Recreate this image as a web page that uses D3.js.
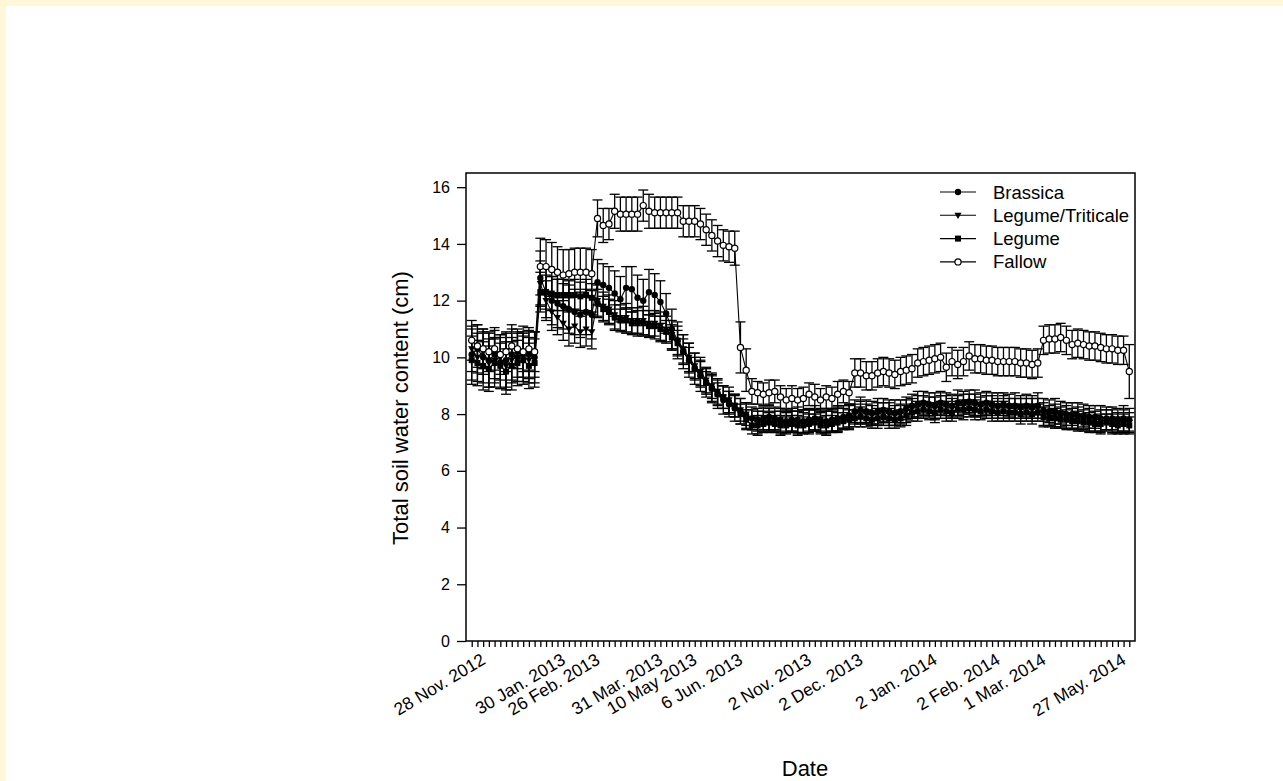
<!DOCTYPE html>
<html>
<head>
<meta charset="utf-8">
<script src="https://cdn.jsdelivr.net/npm/d3@7"></script>
<style>
  html, body { margin: 0; padding: 0; background: #fff8d8; }
  svg { display: block; }
  text { font-family: "Liberation Sans", Arial, sans-serif; fill: #000; }
</style>
</head>
<body>
<svg id="chart" width="1283" height="781"></svg>
<script>
// Sampling occasions (one category per soil-water survey)
const sampleIndex = d3.range(116);

// Category positions that carry a date label, and the labels
const tickIndex = [2, 16, 22, 33, 39, 47, 59, 68, 81, 92, 100, 114];
const tickText = ["28 Nov. 2012", "30 Jan. 2013", "26 Feb. 2013", "31 Mar. 2013", "10 May 2013",
  "6 Jun. 2013", "2 Nov. 2013", "2 Dec. 2013", "2 Jan. 2014", "2 Feb. 2014", "1 Mar. 2014", "27 May. 2014"];

const yTicks = [0, 2, 4, 6, 8, 10, 12, 14, 16];

// Total soil water content (cm), mean per sampling date
const brassica = [
  10.1, 10.3, 10.0, 9.9, 10.1, 9.8, 9.9, 10.1, 10.0, 10.2, 10.1, 10.0,
  12.8, 12.3, 12.0, 11.9, 11.8, 11.7, 11.6, 11.5, 11.6, 11.5,
  12.65, 12.55, 12.45, 12.25, 12.05, 12.45, 12.4, 12.1, 12.0, 12.3, 12.2, 11.95, 11.55, 11.0, 10.6, 10.2, 9.9, 9.6, 9.35, 9.1, 8.9, 8.7, 8.5, 8.35, 8.2,
  8.1, 7.95, 7.85, 7.8, 7.85, 7.9, 7.85, 7.8, 7.75, 7.8, 7.8, 7.75, 7.8, 7.85, 7.8, 7.75, 7.8, 7.85, 7.9, 7.95,
  8.1, 8.15, 8.1, 8.05, 8.1, 8.15, 8.1, 8.05, 8.1, 8.2, 8.3, 8.35, 8.4, 8.35, 8.3, 8.4, 8.35, 8.3, 8.4, 8.4, 8.45, 8.4, 8.35, 8.4, 8.35, 8.3, 8.35, 8.3, 8.3, 8.25, 8.3, 8.25, 8.3,
  8.15, 8.1, 8.1, 8.05, 8.0, 8.0, 7.95, 7.95, 7.9, 7.9, 7.85, 7.85, 7.85, 7.8, 7.85, 7.8
];
const legumeTriticale = [
  10.3, 10.0, 10.2, 9.8, 9.9, 10.0, 9.7, 9.9, 10.1, 10.0, 9.9, 10.1,
  12.6, 12.0, 11.6, 11.4, 11.2, 11.0, 11.1, 10.9, 11.0, 10.9,
  12.0, 11.8, 11.7, 11.5, 11.4, 11.4, 11.3, 11.3, 11.3, 11.2, 11.2, 11.1, 11.0, 10.8, 10.6, 10.3, 10.0, 9.7, 9.5, 9.2, 9.0, 8.8, 8.6, 8.5, 8.3,
  8.15, 8.0, 7.8, 7.7, 7.75, 7.8, 7.75, 7.7, 7.7, 7.75, 7.7, 7.7, 7.75, 7.8, 7.7, 7.7, 7.75, 7.8, 7.85, 7.9,
  8.0, 8.05, 8.0, 7.95, 8.0, 8.05, 8.0, 7.95, 8.0, 8.1, 8.2, 8.25, 8.3, 8.25, 8.2, 8.3, 8.25, 8.2, 8.3, 8.3, 8.35, 8.3, 8.25, 8.3, 8.25, 8.2, 8.25, 8.2, 8.2, 8.15, 8.2, 8.15, 8.2,
  8.0, 7.95, 7.95, 7.9, 7.9, 7.85, 7.85, 7.8, 7.8, 7.75, 7.75, 7.8, 7.75, 7.7, 7.75, 7.7
];
const legume = [
  9.9, 9.8, 9.7, 9.6, 9.8, 9.7, 9.5, 9.7, 9.8, 9.9, 9.7, 9.8,
  12.3, 12.3, 12.25, 12.2, 12.2, 12.2, 12.2, 12.15, 12.2, 12.1,
  11.9, 11.7, 11.6, 11.4, 11.3, 11.3, 11.2, 11.2, 11.2, 11.1, 11.1, 11.0, 10.9, 10.7, 10.5, 10.2, 9.9, 9.6, 9.4, 9.1, 8.9, 8.7, 8.6, 8.4, 8.3,
  8.0, 7.8, 7.6, 7.6, 7.65, 7.7, 7.65, 7.6, 7.6, 7.65, 7.6, 7.6, 7.65, 7.7, 7.6, 7.6, 7.65, 7.7, 7.75, 7.8,
  7.85, 7.9, 7.85, 7.8, 7.85, 7.9, 7.85, 7.8, 7.85, 7.95, 8.05, 8.1, 8.15, 8.1, 8.05, 8.15, 8.1, 8.05, 8.15, 8.15, 8.2, 8.15, 8.1, 8.15, 8.1, 8.05, 8.1, 8.05, 8.05, 8.0, 8.05, 8.0, 8.05,
  7.9, 7.85, 7.85, 7.8, 7.8, 7.75, 7.75, 7.7, 7.7, 7.65, 7.65, 7.7, 7.65, 7.6, 7.65, 7.6
];
const fallow = [
  10.6, 10.4, 10.3, 10.2, 10.3, 10.1, 10.2, 10.4, 10.3, 10.2, 10.3, 10.2,
  13.2, 13.2, 13.1, 13.0, 12.9, 12.95, 13.0, 13.0, 13.0, 12.95,
  14.9, 14.65, 14.7, 15.15, 15.05, 15.05, 15.05, 15.05, 15.35, 15.15, 15.1, 15.1, 15.1, 15.1, 15.1, 14.8, 14.8, 14.8, 14.7, 14.5, 14.3, 14.1, 13.95, 13.9, 13.85,
  10.35, 9.55, 8.8, 8.75, 8.7, 8.75, 8.8, 8.6, 8.5, 8.55, 8.5, 8.55, 8.7, 8.6, 8.5, 8.6, 8.55, 8.7, 8.8, 8.75,
  9.45, 9.45, 9.35, 9.35, 9.45, 9.5, 9.45, 9.4, 9.5, 9.55, 9.6, 9.8, 9.85, 9.9, 9.95, 10.0, 9.65, 9.85, 9.75, 9.85, 10.05, 9.95, 9.95, 9.9, 9.9, 9.85, 9.85, 9.85, 9.85, 9.8, 9.8, 9.75, 9.8,
  10.6, 10.65, 10.65, 10.7, 10.6, 10.45, 10.5, 10.45, 10.4, 10.4, 10.35, 10.3, 10.3, 10.25, 10.25, 9.5
];

// Standard errors (cm)
const brassicaErr = [
  0.9, 0.85, 0.9, 0.95, 0.85, 0.9, 0.95, 0.9, 0.85, 0.9, 0.85, 0.9,
  0.95, 0.9, 0.85, 0.85, 0.8, 0.85, 0.8, 0.8, 0.8, 0.85,
  0.8, 0.75, 0.75, 0.8, 0.8, 0.75, 0.8, 0.8, 0.75, 0.8, 0.75, 0.75, 0.7, 0.7, 0.65, 0.6, 0.6, 0.55, 0.55, 0.5, 0.5, 0.5, 0.5, 0.45, 0.45,
  0.45, 0.45, 0.4, 0.4, 0.4, 0.45, 0.4, 0.4, 0.4, 0.4, 0.45, 0.4, 0.4, 0.45, 0.4, 0.4, 0.4, 0.45, 0.4, 0.4,
  0.4, 0.45, 0.4, 0.4, 0.45, 0.4, 0.4, 0.45, 0.4, 0.4, 0.4, 0.45, 0.4, 0.4, 0.45, 0.4, 0.4, 0.4, 0.45, 0.4, 0.4, 0.45, 0.4, 0.4, 0.4, 0.45, 0.4, 0.4, 0.45, 0.4, 0.4, 0.4, 0.45,
  0.4, 0.4, 0.45, 0.4, 0.4, 0.4, 0.45, 0.4, 0.4, 0.4, 0.45, 0.4, 0.4, 0.4, 0.45, 0.4
];
const legumeTriticaleErr = [
  0.8, 0.85, 0.8, 0.85, 0.8, 0.8, 0.85, 0.8, 0.8, 0.85, 0.8, 0.8,
  0.8, 0.7, 0.65, 0.6, 0.6, 0.6, 0.6, 0.55, 0.6, 0.6,
  0.55, 0.5, 0.5, 0.5, 0.45, 0.5, 0.45, 0.45, 0.5, 0.45, 0.45, 0.5, 0.45, 0.5, 0.5, 0.5, 0.5, 0.45, 0.5, 0.45, 0.45, 0.45, 0.4, 0.45, 0.4,
  0.4, 0.4, 0.35, 0.4, 0.35, 0.4, 0.35, 0.4, 0.35, 0.35, 0.4, 0.35, 0.4, 0.35, 0.35, 0.4, 0.35, 0.4, 0.35, 0.4,
  0.35, 0.4, 0.35, 0.35, 0.4, 0.35, 0.4, 0.35, 0.35, 0.4, 0.35, 0.4, 0.35, 0.35, 0.4, 0.35, 0.4, 0.35, 0.35, 0.4, 0.35, 0.4, 0.35, 0.35, 0.4, 0.35, 0.4, 0.35, 0.35, 0.4, 0.35, 0.4, 0.35,
  0.4, 0.35, 0.4, 0.35, 0.4, 0.35, 0.4, 0.35, 0.4, 0.35, 0.4, 0.35, 0.4, 0.35, 0.4, 0.35
];
const legumeErr = [
  0.85, 0.8, 0.85, 0.8, 0.85, 0.8, 0.8, 0.85, 0.8, 0.85, 0.8, 0.85,
  0.7, 0.6, 0.6, 0.55, 0.55, 0.5, 0.55, 0.5, 0.55, 0.5,
  0.5, 0.45, 0.45, 0.45, 0.4, 0.45, 0.4, 0.45, 0.45, 0.4, 0.45, 0.45, 0.4, 0.45, 0.45, 0.45, 0.45, 0.4, 0.45, 0.4, 0.45, 0.4, 0.4, 0.4, 0.4,
  0.35, 0.35, 0.3, 0.35, 0.3, 0.35, 0.3, 0.35, 0.3, 0.3, 0.35, 0.3, 0.35, 0.3, 0.3, 0.35, 0.3, 0.35, 0.3, 0.35,
  0.3, 0.35, 0.3, 0.3, 0.35, 0.3, 0.35, 0.3, 0.3, 0.35, 0.3, 0.35, 0.3, 0.3, 0.35, 0.3, 0.35, 0.3, 0.3, 0.35, 0.3, 0.35, 0.3, 0.3, 0.35, 0.3, 0.35, 0.3, 0.3, 0.35, 0.3, 0.35, 0.3,
  0.35, 0.3, 0.35, 0.3, 0.35, 0.3, 0.35, 0.3, 0.35, 0.3, 0.35, 0.3, 0.35, 0.3, 0.35, 0.3
];
const fallowErr = [
  0.7, 0.75, 0.7, 0.7, 0.75, 0.7, 0.7, 0.75, 0.7, 0.7, 0.75, 0.7,
  1.0, 0.95, 0.95, 0.9, 0.9, 0.85, 0.85, 0.85, 0.85, 0.85,
  0.65, 0.6, 0.55, 0.6, 0.6, 0.6, 0.6, 0.6, 0.55, 0.6, 0.55, 0.55, 0.55, 0.55, 0.55, 0.55, 0.55, 0.55, 0.55, 0.55, 0.55, 0.55, 0.55, 0.55, 0.6,
  0.9, 0.75, 0.45, 0.4, 0.4, 0.45, 0.4, 0.4, 0.4, 0.45, 0.4, 0.4, 0.4, 0.45, 0.4, 0.4, 0.4, 0.45, 0.4, 0.4,
  0.5, 0.5, 0.5, 0.5, 0.5, 0.5, 0.5, 0.5, 0.5, 0.5, 0.5, 0.5, 0.5, 0.5, 0.5, 0.5, 0.5, 0.5, 0.5, 0.5, 0.5, 0.5, 0.5, 0.5, 0.5, 0.5, 0.5, 0.5, 0.5, 0.5, 0.5, 0.5, 0.5,
  0.5, 0.5, 0.5, 0.5, 0.5, 0.5, 0.5, 0.5, 0.5, 0.5, 0.5, 0.5, 0.5, 0.5, 0.5, 0.95
];

const seriesNames = ["Brassica", "Legume/Triticale", "Legume", "Fallow"];
const seriesValues = [brassica, legumeTriticale, legume, fallow];
const seriesErrors = [brassicaErr, legumeTriticaleErr, legumeErr, fallowErr];
const seriesSymbols = ["circle", "triangle", "square", "open"];

const FONT = "Liberation Sans, Arial, sans-serif";
const svg = d3.select("#chart");

// white page with a thin tinted margin on top and left
svg.append("rect").attr("x", 6).attr("y", 6).attr("width", 1283).attr("height", 781).attr("fill", "#fff");

const plot = { left: 466, right: 1135, top: 173, bottom: 641 };

const x = d3.scalePoint().domain(sampleIndex).range([plot.left, plot.right]).padding(1);
const y = d3.scaleLinear().domain([0, 16.5]).range([plot.bottom, plot.top]);

// frame
svg.append("rect")
  .attr("x", plot.left).attr("y", plot.top)
  .attr("width", plot.right - plot.left).attr("height", plot.bottom - plot.top)
  .attr("fill", "none").attr("stroke", "#000").attr("stroke-width", 1.5);

// y axis
const yAxis = d3.axisLeft(y).tickValues(yTicks).tickSize(9).tickPadding(7).tickFormat(d3.format("d"));
svg.append("g").attr("transform", `translate(${plot.left},0)`).call(yAxis)
  .call(g => g.select(".domain").remove())
  .call(g => g.selectAll("line").attr("stroke-width", 1.3))
  .call(g => g.selectAll("text").style("font-size", "16px").style("font-family", FONT));

// x axis: a tick for every sampling date, labels on selected dates
const labelOf = new Map(tickIndex.map((d, i) => [d, tickText[i]]));
const xAxis = d3.axisBottom(x).tickSize(6).tickFormat(d => labelOf.get(d) || "");
const gx = svg.append("g").attr("transform", `translate(0,${plot.bottom})`).call(xAxis);
gx.select(".domain").remove();
gx.selectAll("line").attr("stroke-width", 1.3);
gx.selectAll("text")
  .style("font-size", "17.5px")
  .style("font-family", FONT)
  .attr("text-anchor", "end")
  .attr("dy", null)
  .attr("y", 0)
  .attr("transform", "translate(3,22) rotate(-31)");

// axis titles
svg.append("text").attr("x", 805).attr("y", 776).attr("text-anchor", "middle")
  .style("font-size", "22px").text("Date");
svg.append("text").attr("transform", "translate(408,408) rotate(-90)").attr("text-anchor", "middle")
  .style("font-size", "22px").text("Total soil water content (cm)");

// error bars
const capHalf = 5;
seriesValues.forEach((vals, s) => {
  const errs = seriesErrors[s];
  const g = svg.append("g").attr("stroke", "#000").attr("stroke-width", 1.3).attr("fill", "none");
  vals.forEach((v, i) => {
    const cx = x(sampleIndex[i]);
    const y1 = y(v + errs[i]), y0 = y(v - errs[i]);
    g.append("line").attr("x1", cx).attr("x2", cx).attr("y1", y1).attr("y2", y0);
    g.append("line").attr("x1", cx - capHalf).attr("x2", cx + capHalf).attr("y1", y1).attr("y2", y1);
    g.append("line").attr("x1", cx - capHalf).attr("x2", cx + capHalf).attr("y1", y0).attr("y2", y0);
  });
});

// connecting lines
const line = d3.line().x((d, i) => x(sampleIndex[i])).y(d => y(d));
seriesValues.forEach(vals => {
  svg.append("path").datum(vals).attr("d", line)
    .attr("fill", "none").attr("stroke", "#000").attr("stroke-width", 1.1);
});

// symbols
function drawSymbol(g, kind, cx, cy) {
  if (kind === "circle") {
    g.append("circle").attr("cx", cx).attr("cy", cy).attr("r", 3.2).attr("fill", "#000");
  } else if (kind === "open") {
    g.append("circle").attr("cx", cx).attr("cy", cy).attr("r", 3.1).attr("fill", "#fff")
      .attr("stroke", "#000").attr("stroke-width", 1.2);
  } else if (kind === "square") {
    g.append("rect").attr("x", cx - 3).attr("y", cy - 3).attr("width", 6).attr("height", 6).attr("fill", "#000");
  } else if (kind === "triangle") {
    g.append("path").attr("d", `M${cx - 3.6},${cy - 2.6}L${cx + 3.6},${cy - 2.6}L${cx},${cy + 3.6}Z`).attr("fill", "#000");
  }
}
seriesValues.forEach((vals, s) => {
  const g = svg.append("g");
  vals.forEach((v, i) => drawSymbol(g, seriesSymbols[s], x(sampleIndex[i]), y(v)));
});

// legend
const legend = svg.append("g");
seriesNames.forEach((name, s) => {
  const ly = 192 + s * 23.3;
  legend.append("line").attr("x1", 940).attr("x2", 976).attr("y1", ly).attr("y2", ly)
    .attr("stroke", "#000").attr("stroke-width", 1.1);
  drawSymbol(legend, seriesSymbols[s], 958, ly);
  legend.append("text").attr("x", 993).attr("y", ly + 6.5).style("font-size", "18.5px").text(name);
});
</script>
</body>
</html>
